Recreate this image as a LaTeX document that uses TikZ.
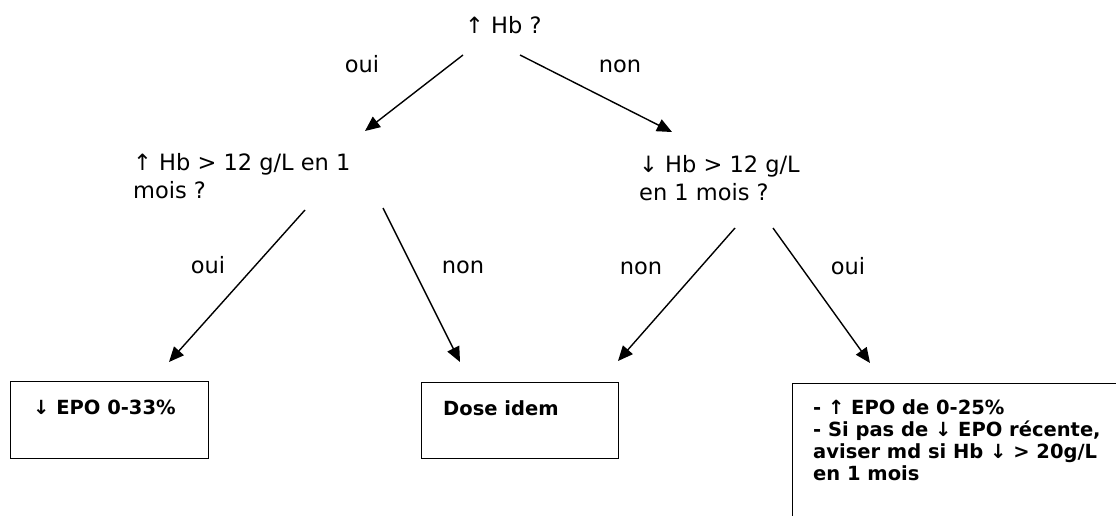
\documentclass[tikz,border=0pt]{standalone}
\usepackage{fontspec}
\setmainfont{DejaVu Sans}
\usetikzlibrary{arrows.meta}
\tikzset{
  q/.style={font=\fontsize{22.5}{28}\selectfont, inner sep=0pt, align=left, anchor=base west},
  lab/.style={font=\fontsize{22.5}{28}\selectfont, inner sep=0pt, anchor=base},
  bx/.style={draw, line width=1.3pt, inner sep=0pt},
  bt/.style={font=\bfseries\fontsize{19.5}{22}\selectfont, inner sep=0pt, align=left, anchor=base west},
  arr/.style={line width=1.4pt, -{Triangle[length=15pt,width=13pt]}},
}
\begin{document}
\begin{tikzpicture}[x=1pt,y=-1pt]
\clip (0,0) rectangle (1116,516);
\fill[white] (0,0) rectangle (1116,516);
% questions
\node[q] (top) at (465,34) {↑ Hb ?};
\node[q] (ql) at (133,198) {↑ Hb > 12 g/L en 1\\mois ?};
\node[q] (qr) at (639,200) {↓ Hb > 12 g/L\\en 1 mois ?};
% boxes
\node[bx, minimum width=198pt, minimum height=77pt, anchor=north west] (b1) at (10,381) {};
\node[bx, minimum width=197pt, minimum height=76pt, anchor=north west] (b2) at (421,382) {};
\node[bx, minimum width=400pt, minimum height=200pt, anchor=north west] (b3) at (792,383) {};
\node[bt] (t1) at (33,414) {↓ EPO 0-33\%};
\node[bt] (t2) at (443,415) {Dose idem};
\node[bt] (t3) at (813,480) {- ↑ EPO de 0-25\%\\- Si pas de ↓ EPO récente,\\aviser md si Hb ↓ > 20g/L\\en 1 mois};
% connector ends
\coordinate (s1) at (463,55);
\coordinate (s2) at (520,55);
\coordinate (e1) at (365,131);
\coordinate (e2) at (672,132);
\coordinate (s3) at (305,210);
\coordinate (s4) at (383,208);
\coordinate (s5) at (735,228);
\coordinate (s6) at (773,228);
\coordinate (e3) at (169,362);
\coordinate (e4) at (460,362);
\coordinate (e5) at (618,361);
\coordinate (e6) at (870,363);
\draw[arr] (s1) -- (e1);
\draw[arr] (s2) -- (e2);
\draw[arr] (s3) -- (e3);
\draw[arr] (s4) -- (e4);
\draw[arr] (s5) -- (e5);
\draw[arr] (s6) -- (e6);
% labels
\node[lab] (l1) at (362,73) {oui};
\node[lab] (l2) at (620,73) {non};
\node[lab] (l3) at (208,273) {oui};
\node[lab] (l4) at (463,273) {non};
\node[lab] (l5) at (641,274) {non};
\node[lab] (l6) at (848,274) {oui};
\end{tikzpicture}
\end{document}
